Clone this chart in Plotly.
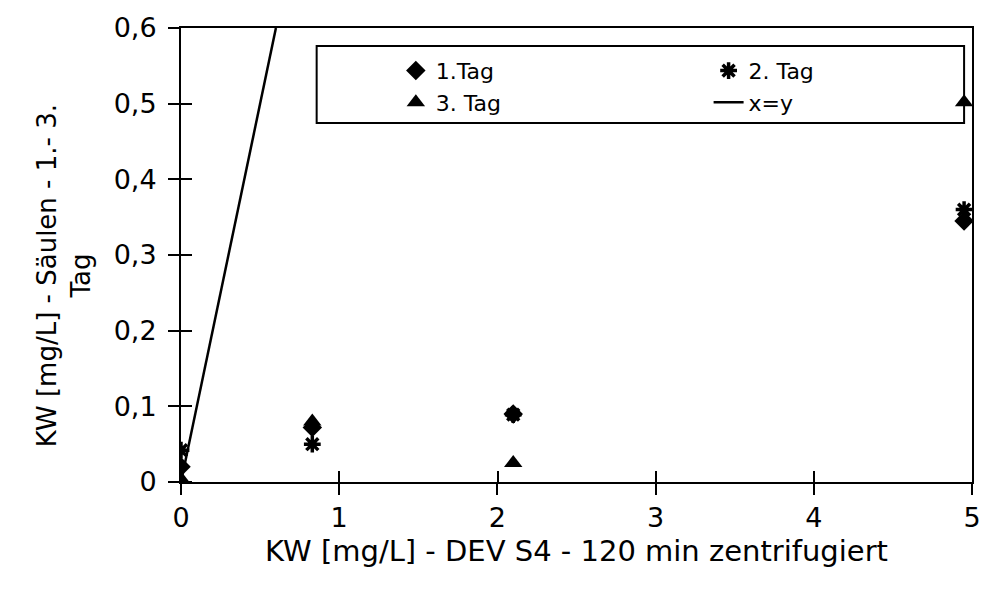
import plotly.graph_objects as go

x_vals = [0, 0.83, 2.1, 4.95]
tag1 = [0.02, 0.072, 0.09, 0.345]
tag2 = [0.042, 0.05, 0.089, 0.36]
tag3 = [0.004, 0.08, 0.025, 0.502]
line_x = [0, 0.6]
line_y = [0, 0.6]

x_ticks = [0, 1, 2, 3, 4, 5]
y_ticks = [0, 0.1, 0.2, 0.3, 0.4, 0.5, 0.6]
y_ticklabels = ["0", "0,1", "0,2", "0,3", "0,4", "0,5", "0,6"]

# inner half of the crossing tick marks (nudged by a sub-pixel amount so
# plotly does not merge them with the major ticks)
x_inner = [v + 1e-3 for v in x_ticks]
y_inner = [v + 1e-4 for v in y_ticks]

FONT = "DejaVu Sans, Liberation Sans, Arial, sans-serif"

fig = go.Figure()
fig.add_trace(go.Scatter(x=x_vals, y=tag1, mode="markers", name="1.Tag", legend="legend",
                         marker=dict(symbol="diamond", size=15, color="black")))
fig.add_trace(go.Scatter(x=x_vals, y=tag2, mode="markers", name="2. Tag", legend="legend2",
                         marker=dict(symbol="asterisk-open", size=14, color="black",
                                     line=dict(width=3.5, color="black"))))
fig.add_trace(go.Scatter(x=x_vals, y=tag3, mode="markers", name="3. Tag", legend="legend",
                         marker=dict(symbol="triangle-up", size=16, color="black")))
fig.add_trace(go.Scatter(x=line_x, y=line_y, mode="lines", name="x=y", legend="legend2",
                         line=dict(color="black", width=2.5)))

axis_common = dict(showline=True, linecolor="black", linewidth=2, mirror=True,
                   tickwidth=2, tickcolor="black", showgrid=False, zeroline=False)
legend_common = dict(orientation="v", xanchor="left", yanchor="top", borderwidth=0,
                     bgcolor="rgba(0,0,0,0)", font=dict(size=22), tracegroupgap=0)

fig.update_layout(
    width=993, height=594,
    margin=dict(l=181, r=13, t=27, b=112),
    paper_bgcolor="white", plot_bgcolor="white",
    separators=", ",
    font=dict(family=FONT, size=25, color="black"),
    legend=dict(x=0.2716, y=0.952, **legend_common),
    legend2=dict(x=0.667, y=0.952, **legend_common),
    xaxis=dict(range=[0, 5], tickvals=x_ticks, ticks="outside", ticklen=11,
               minor=dict(tickmode="array", ticks="inside", tickvals=x_inner,
                          ticklen=11, tickwidth=2, tickcolor="black", showgrid=False),
               title=dict(text="KW [mg/L] - DEV S4 - 120 min zentrifugiert",
                          font=dict(size=29), standoff=8),
               tickfont=dict(size=27), **axis_common),
    yaxis=dict(range=[0, 0.6], tickvals=y_ticks, ticktext=y_ticklabels,
               ticks="outside", ticklen=11, ticklabelstandoff=6,
               minor=dict(tickmode="array", ticks="inside", tickvals=y_inner,
                          ticklen=11, tickwidth=2, tickcolor="black", showgrid=False),
               tickfont=dict(size=27), **axis_common),
)

fig.add_annotation(text="KW [mg/L] - Säulen - 1.- 3.<br>Tag", textangle=-90,
                   xref="paper", yref="paper", x=-0.147, y=0.455,
                   xanchor="center", yanchor="middle", showarrow=False,
                   font=dict(size=26))

fig.add_shape(type="rect", xref="paper", yref="paper",
              x0=0.1715, x1=0.990, y0=0.791, y1=0.9604,
              line=dict(color="black", width=2), fillcolor="rgba(0,0,0,0)")

fig.write_html("out.html")
